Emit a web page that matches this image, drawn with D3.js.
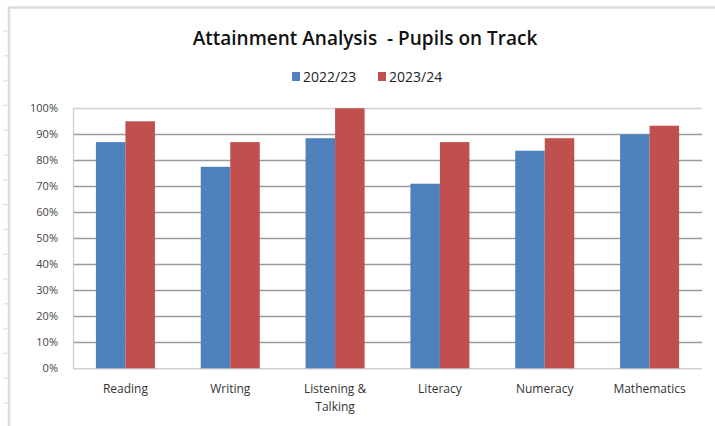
<!DOCTYPE html>
<html><head><meta charset="utf-8">
<script src="https://cdn.jsdelivr.net/npm/d3@7"></script>
<style>
html,body{margin:0;padding:0;background:#fff;}
svg{display:block;}
</style></head>
<body>
<svg id="c" width="715" height="426"></svg>
<script>
const categories = ["Reading", "Writing", "Listening & Talking", "Literacy", "Numeracy", "Mathematics"];
const seriesNames = ["2022/23", "2023/24"];
const values2022 = [87, 77.5, 88.5, 71, 83.7, 90];
const values2023 = [95, 87, 100, 87, 88.5, 93.3];
const yTicks = [0,10,20,30,40,50,60,70,80,90,100];
const colors = ["#4F81BD", "#C0504D"];

const svg = d3.select("#c");
const font = "'Open Sans', 'Liberation Sans', sans-serif";

// outer frame (sheet edge)
svg.append("line").attr("x1",9).attr("x2",715).attr("y1",7.5).attr("y2",7.5).attr("stroke","#dcdcdc").attr("stroke-width",2.5);
svg.append("line").attr("x1",9).attr("x2",9).attr("y1",7).attr("y2",426).attr("stroke","#dcdcdc").attr("stroke-width",2.5);
// faint sheet row ticks
d3.range(0,16).forEach(i=>{
  svg.append("line").attr("x1",3).attr("x2",8).attr("y1",31+i*24.8).attr("y2",31+i*24.8).attr("stroke","#e6e6e6").attr("stroke-width",1.5);
});

const m = {left:73, right:702, top:108.3, bottom:368.3};
const x = d3.scaleBand().domain(categories).range([m.left, m.right]).paddingInner(0.437).paddingOuter(0.2185);
const xs = d3.scaleBand().domain(seriesNames).range([0, x.bandwidth()]);
const y = d3.scaleLinear().domain([0,100]).range([m.bottom, m.top]);

// gridlines
svg.append("g").selectAll("line").data(yTicks.filter(t=>t>0)).join("line")
  .attr("x1", m.left).attr("x2", m.right)
  .attr("y1", d=>Math.round(y(d))+0.5).attr("y2", d=>Math.round(y(d))+0.5)
  .attr("stroke", d=> d===100 ? "#d0d0d0" : "#9a9a9a").attr("stroke-width",1.3);
// plot border left & bottom
svg.append("line").attr("x1",m.left+0.5).attr("x2",m.left+0.5).attr("y1",m.top).attr("y2",m.bottom).attr("stroke","#d0d0d0").attr("stroke-width",1.3);
svg.append("line").attr("x1",m.left).attr("x2",m.right).attr("y1",m.bottom+0.5).attr("y2",m.bottom+0.5).attr("stroke","#cfcfcf").attr("stroke-width",1.5);

// bars
const data = categories.map((c,i)=>({cat:c, vals:[values2022[i], values2023[i]]}));
const g = svg.append("g").selectAll("g").data(data).join("g").attr("transform", d=>`translate(${x(d.cat)},0)`);
g.selectAll("rect").data(d=>d.vals.map((v,j)=>({v, s:seriesNames[j], j}))).join("rect")
  .attr("x", d=>xs(d.s)).attr("width", xs.bandwidth())
  .attr("y", d=>y(d.v)).attr("height", d=>m.bottom - y(d.v))
  .attr("fill", d=>colors[d.j]);

// y axis labels
const yAxis = d3.axisLeft(y).tickValues(yTicks).tickFormat(d=>d+"%").tickSize(0).tickPadding(0);
const ya = svg.append("g").attr("transform","translate(58,0)").call(yAxis);
ya.select(".domain").remove();
ya.selectAll("text").attr("font-family",font).attr("font-size",11).attr("fill","#444");

// x axis labels
const xAxis = d3.axisBottom(x).tickSize(0).tickFormat("");
const xa = svg.append("g").attr("transform",`translate(0,${m.bottom})`).call(xAxis);
xa.select(".domain").remove();
xa.selectAll(".tick").each(function(d){
  const words = d.split(" & ");
  const lines = words.length>1 ? [words[0]+" &", words[1]] : [d];
  const t = d3.select(this).append("text").attr("text-anchor","middle")
    .attr("font-family",font).attr("font-size",12).attr("fill","#333");
  lines.forEach((l,i)=>t.append("tspan").attr("x",0).attr("y",25+i*18).text(l));
});

// title
svg.append("text").attr("x",365).attr("y",45).attr("text-anchor","middle")
  .attr("font-family",font).attr("font-size",19).attr("font-weight",600).attr("fill","#111")
  .style("white-space","pre")
  .text("Attainment Analysis  - Pupils on Track");

// legend
const legX = [292, 378];
seriesNames.forEach((s,i)=>{
  svg.append("rect").attr("x",legX[i]).attr("y",72).attr("width",8).attr("height",9).attr("fill",colors[i]);
  svg.append("text").attr("x",legX[i]+11).attr("y",81.5).attr("font-family",font).attr("font-size",14).attr("fill","#222").text(s);
});
</script>
</body></html>
